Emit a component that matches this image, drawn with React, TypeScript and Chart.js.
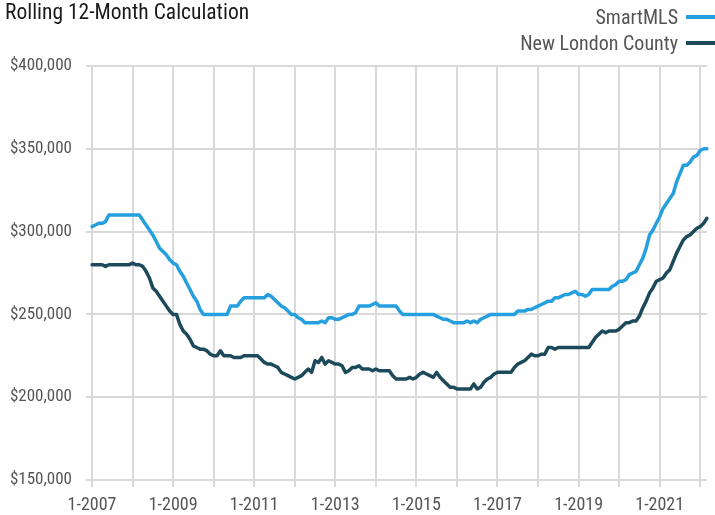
import React, { useEffect, useRef } from 'react';
import { Chart, registerables } from 'chart.js';

Chart.register(...registerables);

const FONT = '"Liberation Sans Narrow", "Arial Narrow", "Roboto Condensed", Roboto, sans-serif';

// Monthly categories, Jan 2007 .. Mar 2022
const months: string[] = [];
for (let y = 2007; y <= 2022; y++) {
  for (let m = 1; m <= 12; m++) {
    if (y === 2022 && m > 3) break;
    months.push(`${m}-${y}`);
  }
}

const seriesNames = ['SmartMLS', 'New London County'];
const seriesColors = ['#259fde', '#1c4a5a'];

// Median sales price, rolling 12 months, in $ thousands
const smartMLS = [
  303, 304, 305, 305, 306, 310, 310, 310, 310, 310, 310, 310,
  310, 310, 310, 307, 304, 301, 298, 294, 290, 288, 286, 283,
  281, 280, 276, 273, 269, 265, 261, 258, 253, 250, 250, 250,
  250, 250, 250, 250, 250, 255, 255, 255, 258, 260, 260, 260,
  260, 260, 260, 260, 262, 261, 259, 257, 255, 254, 252, 250,
  250, 248, 247, 245, 245, 245, 245, 245, 246, 245, 248, 248,
  247, 247, 248, 249, 250, 250, 251, 255, 255, 255, 255, 256,
  257, 255, 255, 255, 255, 255, 255, 252, 250, 250, 250, 250,
  250, 250, 250, 250, 250, 250, 249, 248, 247, 247, 246, 245,
  245, 245, 245, 246, 245, 246, 245, 247, 248, 249, 250, 250,
  250, 250, 250, 250, 250, 250, 252, 252, 252, 253, 253, 254,
  255, 256, 257, 258, 258, 260, 260, 261, 262, 262, 263, 264,
  262, 262, 261, 262, 265, 265, 265, 265, 265, 265, 267, 268,
  270, 270, 271, 274, 275, 276, 280, 284, 290, 298, 301, 305,
  309, 314, 317, 320, 323, 330, 335, 340, 340, 342, 345, 346,
  349, 350, 350,
];

const newLondon = [
  280, 280, 280, 280, 279, 280, 280, 280, 280, 280, 280, 280,
  281, 280, 280, 279, 276, 272, 266, 264, 261, 258, 255, 252,
  250, 250, 244, 240, 238, 235, 231, 230, 229, 229, 228, 226,
  225, 225, 228, 225, 225, 225, 224, 224, 224, 225, 225, 225,
  225, 225, 223, 221, 220, 220, 219, 218, 215, 214, 213, 212,
  211, 212, 213, 215, 217, 215, 222, 221, 224, 220, 222, 221,
  220, 220, 219, 215, 216, 218, 218, 219, 217, 217, 217, 216,
  217, 216, 216, 216, 216, 213, 211, 211, 211, 211, 212, 211,
  212, 214, 215, 214, 213, 212, 215, 212, 210, 208, 206, 206,
  205, 205, 205, 205, 205, 208, 205, 206, 209, 211, 212, 214,
  215, 215, 215, 215, 215, 218, 220, 221, 222, 224, 226, 225,
  225, 226, 226, 230, 230, 229, 230, 230, 230, 230, 230, 230,
  230, 230, 230, 230, 233, 236, 238, 240, 239, 240, 240, 240,
  241, 243, 245, 245, 246, 246, 249, 254, 258, 263, 266, 270,
  271, 272, 275, 277, 282, 287, 291, 295, 297, 298, 300, 302,
  303, 305, 308,
];

const yTicks = [150000, 200000, 250000, 300000, 350000, 400000];

export default function App() {
  const ref = useRef<HTMLCanvasElement | null>(null);

  useEffect(() => {
    if (!ref.current) return;
    const chart = new Chart(ref.current, {
      type: 'line',
      data: {
        labels: months,
        datasets: [smartMLS, newLondon].map((vals, i) => ({
          label: seriesNames[i],
          data: vals.map((v) => v * 1000),
          borderColor: seriesColors[i],
          backgroundColor: seriesColors[i],
          borderWidth: 3.5,
          pointRadius: 0,
          tension: 0,
          borderJoinStyle: 'round' as const,
          borderCapStyle: 'round' as const,
        })),
      },
      options: {
        animation: false,
        responsive: false,
        maintainAspectRatio: false,
        layout: { padding: { top: 66, right: 2, left: 0, bottom: 0 } },
        plugins: { legend: { display: false }, tooltip: { enabled: false }, title: { display: false } },
        scales: {
          x: {
            type: 'category',
            border: { display: false },
            grid: {
              color: (c: any) => (c.index % 12 === 0 ? '#d9d9d9' : 'rgba(0,0,0,0)'),
              lineWidth: 2,
              tickLength: 7,
              drawTicks: true,
            },
            ticks: {
              autoSkip: false,
              maxRotation: 0,
              minRotation: 0,
              padding: 8,
              color: '#555',
              font: { family: FONT, size: 18 },
              callback: function (this: any, _v: any, index: number) {
                return index % 24 === 0 ? months[index] : '';
              },
            },
            afterFit: (s: any) => { s.height = 35; },
          },
          y: {
            min: yTicks[0],
            max: yTicks[yTicks.length - 1],
            border: { display: false },
            grid: { color: '#d9d9d9', lineWidth: 2, tickLength: 6 },
            afterBuildTicks: (s: any) => { s.ticks = yTicks.map((v) => ({ value: v })); },
            ticks: {
              padding: 14,
              color: '#555',
              font: { family: FONT, size: 17 },
              callback: (v: any) => '$' + Number(v).toLocaleString('en-US'),
            },
            afterFit: (s: any) => { s.width = 92; },
          },
        },
      },
    });
    return () => chart.destroy();
  }, []);

  return (
    <div style={{ position: 'fixed', left: 0, top: 0, width: 715, height: 515, background: '#fff', overflow: 'hidden', fontFamily: FONT }}>
      <canvas ref={ref} width={715} height={515} style={{ position: 'absolute', left: 0, top: 0 }} />
      <div style={{ position: 'absolute', left: 5, top: -1, fontSize: 21.5, color: '#1a1a1a', whiteSpace: 'nowrap' }}>
        Rolling 12-Month Calculation
      </div>
      {seriesNames.map((n, i) => (
        <div key={n} style={{ position: 'absolute', right: 0, top: 5 + i * 26, height: 24, display: 'flex', alignItems: 'center', fontSize: 20, color: '#555', whiteSpace: 'nowrap' }}>
          <span>{n}</span>
          <span style={{ display: 'inline-block', width: 29, height: 4, background: seriesColors[i], marginLeft: 8 }} />
        </div>
      ))}
    </div>
  );
}
